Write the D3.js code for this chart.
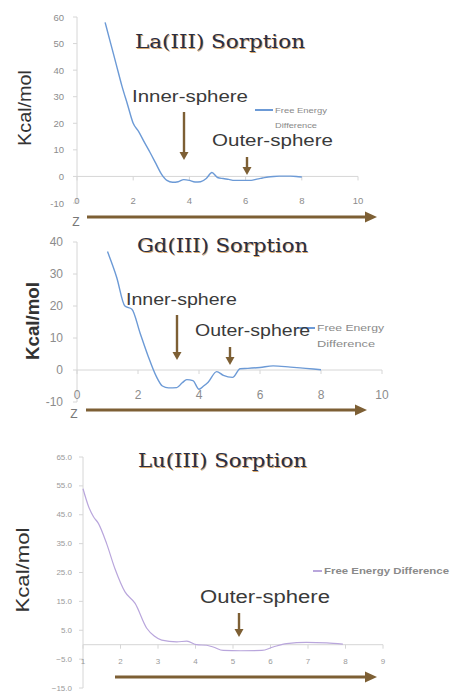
<!DOCTYPE html>
<html>
<head>
<meta charset="utf-8">
<script src="https://cdn.jsdelivr.net/npm/d3@7"></script>
<style>
  html, body { margin: 0; padding: 0; background: #ffffff; }
  svg { display: block; }
</style>
</head>
<body>
<svg id="chart" width="453" height="695"></svg>
<script>
// Free energy profiles (kcal/mol) versus distance Z for three lanthanide ions
const laZ = [1.0, 1.2, 1.4, 1.6, 1.8, 2.0, 2.2, 2.4, 2.6, 2.8, 3.0, 3.2, 3.4, 3.6, 3.8, 4.0, 4.2, 4.4, 4.6, 4.8, 5.0, 5.2, 5.4, 5.6, 5.8, 6.0, 6.2, 6.4, 6.6, 6.8, 7.0, 7.2, 7.4, 7.6, 7.8, 8.0];
const laEnergy = [58, 50, 42, 34, 27, 20, 16.8, 12.8, 9, 5, 1, -1.5, -2.2, -2, -1.2, -1.5, -2.1, -2, -0.8, 1.5, -0.4, -0.8, -1.1, -1.5, -1.5, -1.5, -1.5, -1.0, -0.6, -0.2, 0.0, 0.1, 0.1, 0.1, 0.0, -0.2];

const gdZ = [1.0, 1.3, 1.57, 1.8, 2.07, 2.33, 2.6, 2.8, 3.0, 3.27, 3.45, 3.6, 3.8, 4.0, 4.15, 4.3, 4.58, 4.8, 5.1, 5.35, 5.6, 6.0, 6.43, 7.0, 7.5, 8.0];
const gdEnergy = [37, 29, 20, 19, 11.5, 4.4, -2, -5, -5.6, -5.5, -4, -3, -3.3, -6, -5, -3.8, -0.5, -1.7, -2.3, 0.4, 0.5, 0.8, 1.3, 0.9, 0.5, 0.1];

const luZ = [1.0, 1.15, 1.28, 1.41, 1.63, 1.85, 2.12, 2.39, 2.7, 2.9, 3.1, 3.5, 3.77, 4.03, 4.3, 4.47, 4.74, 5.2, 5.77, 6.07, 6.43, 6.96, 7.5, 7.93];
const luEnergy = [54, 47.8, 44.3, 42, 35, 26.4, 18.3, 14.3, 5.7, 3, 1.6, 1, 1.2, 0, -0.2, -0.8, -2, -2.1, -2, -0.8, 0.4, 0.8, 0.6, 0.2];

// Axis ticks
const laXTicks = [0, 2, 4, 6, 8, 10];
const laYTicks = [-10, 0, 10, 20, 30, 40, 50, 60];
const gdXTicks = [0, 2, 4, 6, 8, 10];
const gdYTicks = [-10, 0, 10, 20, 30, 40];
const luXTicks = [1, 2, 3, 4, 5, 6, 7, 8, 9];
const luYTicks = [-15, -5, 5, 15, 25, 35, 45, 55, 65];

// Titles and annotations
const titles = ["La(III) Sorption", "Gd(III) Sorption", "Lu(III) Sorption"];
const seriesName = "Free Energy Difference";
const yLabel = "Kcal/mol";

const svg = d3.select("#chart");

const brown = "#7d5f34";
const axisGrey = "#d6d6d6";
const tickText = "#8c8c8c";

function addArrowHead(g, x, y, dir, len, half) {
  // dir: "down" or "right"; (x,y) is the tip
  const pts = dir === "down"
    ? [[x, y], [x - half, y - len], [x + half, y - len]]
    : [[x, y], [x - len, y - half], [x - len, y + half]];
  g.append("path")
    .attr("d", "M" + pts.map(p => p.join(",")).join("L") + "Z")
    .attr("fill", brown);
}

function downArrow(g, x, y0, y1) {
  g.append("line").attr("x1", x).attr("x2", x).attr("y1", y0).attr("y2", y1 - 6)
    .attr("stroke", brown).attr("stroke-width", 2.4);
  addArrowHead(g, x, y1, "down", 8, 4.5);
}

function zArrow(g, x0, x1, y) {
  g.append("line").attr("x1", x0).attr("x2", x1 - 10).attr("y1", y).attr("y2", y)
    .attr("stroke", brown).attr("stroke-width", 3.2);
  addArrowHead(g, x1, y, "right", 12, 5.5);
}

function title(g, text, x0, x1, baseline) {
  const t = g.append("g");
  [["#c98a3c", 0.9, 0.6], ["#2a2e44", 0, 0]].forEach(([fill, dx, dy]) => {
    t.append("text")
      .attr("x", x0 + dx).attr("y", baseline + dy)
      .attr("textLength", x1 - x0).attr("lengthAdjust", "spacingAndGlyphs")
      .attr("font-family", "DejaVu Serif, Liberation Serif, serif")
      .attr("font-size", 19)
      .attr("fill", fill)
      .attr("opacity", fill === "#c98a3c" ? 0.75 : 1)
      .text(text);
  });
}

function note(g, text, x0, x1, baseline, size) {
  g.append("text")
    .attr("x", x0).attr("y", baseline)
    .attr("textLength", x1 - x0).attr("lengthAdjust", "spacingAndGlyphs")
    .attr("font-family", "Liberation Sans, Arial, sans-serif")
    .attr("font-size", size)
    .attr("fill", "#3a3a3a")
    .text(text);
}

function vLabel(g, cx, cy, len, size, weight) {
  g.append("text")
    .attr("transform", `translate(${cx},${cy}) rotate(-90)`)
    .attr("text-anchor", "middle")
    .attr("dominant-baseline", "central")
    .attr("textLength", len).attr("lengthAdjust", "spacingAndGlyphs")
    .attr("font-family", "Liberation Sans, Arial, sans-serif")
    .attr("font-size", size)
    .attr("font-weight", weight)
    .attr("fill", "#333")
    .text(yLabel);
}

function panel(opt) {
  const g = svg.append("g");
  const x = d3.scaleLinear().domain(opt.xDomain).range(opt.xRange);
  const y = d3.scaleLinear().domain(opt.yDomain).range(opt.yRange);
  const fmt = opt.yFormat || (d => d);

  // vertical axis line
  g.append("line")
    .attr("x1", x(opt.xDomain[0])).attr("x2", x(opt.xDomain[0]))
    .attr("y1", y(opt.yDomain[1])).attr("y2", y(opt.yDomain[0]))
    .attr("stroke", axisGrey).attr("stroke-width", 1);

  // y ticks and labels
  opt.yTicks.forEach(v => {
    g.append("line")
      .attr("x1", x(opt.xDomain[0]) - 4).attr("x2", x(opt.xDomain[0]))
      .attr("y1", y(v)).attr("y2", y(v))
      .attr("stroke", axisGrey);
    g.append("text")
      .attr("x", opt.yLabelX).attr("y", y(v))
      .attr("text-anchor", "end").attr("dominant-baseline", "central")
      .attr("font-family", "Liberation Sans, Arial, sans-serif")
      .attr("font-size", opt.tickSize).attr("fill", opt.tickColor || tickText)
      .text(fmt(v));
  });

  // zero line with tick marks
  g.append("line")
    .attr("x1", x(opt.xDomain[0])).attr("x2", x(opt.xDomain[1]))
    .attr("y1", y(0)).attr("y2", y(0))
    .attr("stroke", axisGrey).attr("stroke-width", 1);
  opt.xTicks.forEach(v => {
    g.append("line")
      .attr("x1", x(v)).attr("x2", x(v))
      .attr("y1", y(0)).attr("y2", y(0) + 4)
      .attr("stroke", axisGrey);
    g.append("text")
      .attr("x", x(v)).attr("y", opt.xLabelY)
      .attr("text-anchor", "middle").attr("dominant-baseline", "central")
      .attr("font-family", "Liberation Sans, Arial, sans-serif")
      .attr("font-size", opt.tickSize).attr("fill", opt.tickColor || tickText)
      .text(v);
  });

  // energy curve
  const pts = opt.xs.map((v, i) => [v, opt.ys[i]]);
  g.append("path")
    .datum(pts)
    .attr("fill", "none")
    .attr("stroke", opt.color)
    .attr("stroke-width", opt.lineWidth || 1.4)
    .attr("d", d3.line().x(d => x(d[0])).y(d => y(d[1])).curve(d3.curveMonotoneX));

  // legend
  const L = opt.legend;
  g.append("line")
    .attr("x1", L.x0).attr("x2", L.x1).attr("y1", L.y).attr("y2", L.y)
    .attr("stroke", opt.color).attr("stroke-width", 2);
  L.lines.forEach((t, i) => {
    g.append("text")
      .attr("x", L.x1 + 2).attr("y", L.y + i * L.gap)
      .attr("dominant-baseline", "central")
      .attr("font-family", "Liberation Sans, Arial, sans-serif")
      .attr("font-size", L.size).attr("fill", "#8a8a8a")
      .attr("font-weight", L.weight || "normal")
      .attr("textLength", L.len ? L.len[i] : null)
      .attr("lengthAdjust", "spacingAndGlyphs")
      .text(t);
  });
  return g;
}

// ---- La(III) ----
const p1 = panel({
  xs: laZ, ys: laEnergy, color: "#6c9ad6",
  xDomain: [0, 10], xRange: [77, 358],
  yDomain: [-10, 60], yRange: [203, 17],
  xTicks: laXTicks, yTicks: laYTicks,
  yLabelX: 64, xLabelY: 200, tickSize: 9.5,
  legend: { x0: 255, x1: 273, y: 110, gap: 15, size: 7.5, lines: ["Free Energy", "Difference"], len: [52, 42] }
});
title(p1, titles[0], 135, 305, 48);
vLabel(p1, 25, 108, 76, 18, "normal");
note(p1, "Inner-sphere", 132, 248, 102, 17);
note(p1, "Outer-sphere", 212, 333, 146, 17);
downArrow(p1, 184, 112, 160);
downArrow(p1, 247, 157, 175);
zArrow(p1, 87, 377, 217);
p1.append("text").attr("x", 76).attr("y", 222).attr("text-anchor", "middle")
  .attr("dominant-baseline", "central").attr("font-family", "Liberation Sans, Arial, sans-serif")
  .attr("font-size", 12).attr("fill", "#777").text("Z");

// ---- Gd(III) ----
const p2 = panel({
  xs: gdZ, ys: gdEnergy, color: "#6c9ad6",
  xDomain: [0, 10], xRange: [77, 382],
  yDomain: [-10, 40], yRange: [402, 242],
  xTicks: gdXTicks, yTicks: gdYTicks,
  yLabelX: 63, xLabelY: 395, tickSize: 12,
  legend: { x0: 297, x1: 315, y: 328, gap: 16, size: 9, lines: ["Free Energy", "Difference"], len: [67, 58] }
});
title(p2, titles[1], 137, 308, 252);
vLabel(p2, 33, 321, 78, 18, "bold");
note(p2, "Inner-sphere", 126, 237, 305, 16);
note(p2, "Outer-sphere", 195, 310, 336, 16);
downArrow(p2, 177, 315, 360);
downArrow(p2, 230, 347, 365);
zArrow(p2, 86, 367, 410);
p2.append("text").attr("x", 74).attr("y", 414).attr("text-anchor", "middle")
  .attr("dominant-baseline", "central").attr("font-family", "Liberation Sans, Arial, sans-serif")
  .attr("font-size", 12).attr("fill", "#777").text("Z");

// ---- Lu(III) ----
const p3 = panel({
  xs: luZ, ys: luEnergy, color: "#b9a6dc", lineWidth: 1.2,
  xDomain: [1, 9], xRange: [83, 383],
  yDomain: [-15, 65], yRange: [688, 457],
  xTicks: luXTicks, yTicks: luYTicks, yFormat: d3.format(".1f"),
  yLabelX: 72, xLabelY: 661, tickSize: 8, tickColor: "#9a9a9a",
  legend: { x0: 313, x1: 322, y: 571, gap: 0, size: 8.5, weight: "bold", lines: [seriesName], len: [125] }
});
title(p3, titles[2], 138, 307, 467);
vLabel(p3, 22, 570, 85, 19, "normal");
note(p3, "Outer-sphere", 200, 330, 603, 18);
downArrow(p3, 239, 613, 637);
zArrow(p3, 115, 377, 677);
</script>
</body>
</html>
